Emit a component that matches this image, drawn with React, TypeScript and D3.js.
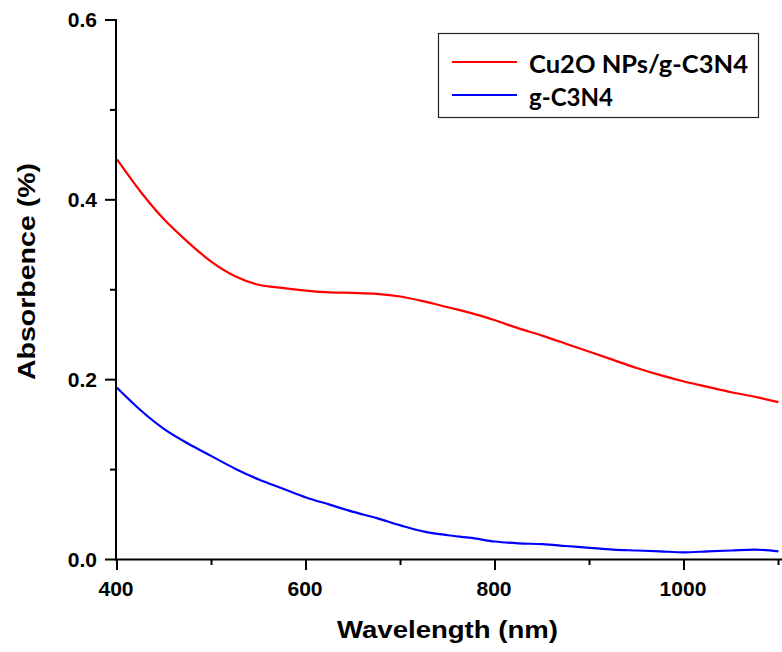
import React from "react";
import * as d3 from "d3";

const wavelengths = [400, 425, 450, 475, 500, 525, 550, 575, 600, 625, 650, 675, 700, 725, 750, 775, 800, 825, 850, 875, 900, 925, 950, 975, 1000, 1025, 1050, 1075, 1100];
const cu2oValues = [0.445, 0.409, 0.378, 0.353, 0.331, 0.315, 0.3055, 0.302, 0.299, 0.297, 0.2965, 0.2955, 0.2925, 0.287, 0.2805, 0.274, 0.266, 0.257, 0.249, 0.240, 0.231, 0.222, 0.213, 0.205, 0.198, 0.192, 0.186, 0.181, 0.175];
const gc3n4Values = [0.191, 0.166, 0.145, 0.129, 0.115, 0.101, 0.089, 0.079, 0.069, 0.061, 0.053, 0.046, 0.038, 0.031, 0.027, 0.024, 0.020, 0.018, 0.017, 0.015, 0.013, 0.011, 0.010, 0.009, 0.008, 0.009, 0.010, 0.011, 0.009];
const seriesNames = ["Cu2O NPs/g-C3N4", "g-C3N4"];
const seriesColors = ["#ff0000", "#0000ff"];
const xMajorTicks = [400, 600, 800, 1000];
const xMinorTicks = [500, 700, 900, 1100];
const yMajorTicks = [0.0, 0.2, 0.4, 0.6];
const yMinorTicks = [0.1, 0.3, 0.5];

const W = 782;
const H = 652;

export default function App() {
  const x = d3.scaleLinear().domain([400, 1100]).range([117, 778.5]);
  const y = d3.scaleLinear().domain([0, 0.6]).range([559.5, 20]);
  const line = d3
    .line<[number, number]>()
    .x((d) => x(d[0]))
    .y((d) => y(d[1]))
    .curve(d3.curveMonotoneX);
  const series = [cu2oValues, gc3n4Values].map((vals) =>
    wavelengths.map((w, i) => [w, vals[i]] as [number, number])
  );
  const tickFont = "Arial, 'Liberation Sans', sans-serif";
  return (
    <svg
      width={W}
      height={H}
      style={{ position: "absolute", left: 0, top: 0, background: "#fff" }}
    >
      <defs>
        <clipPath id="plot">
          <rect x={117} y={0} width={W - 117} height={560} />
        </clipPath>
      </defs>
      <g clipPath="url(#plot)">
        {series.map((s, i) => (
          <path
            key={i}
            d={line(s) || ""}
            fill="none"
            stroke={seriesColors[i]}
            strokeWidth={2.2}
          />
        ))}
      </g>
      {/* axes */}
      <line x1={116} x2={116} y1={19} y2={560.5} stroke="#000" strokeWidth={2} />
      <line x1={115} x2={W} y1={559.5} y2={559.5} stroke="#000" strokeWidth={2} />
      {yMajorTicks.map((t) => (
        <g key={"ym" + t}>
          <line x1={105} x2={116} y1={y(t)} y2={y(t)} stroke="#000" strokeWidth={2} />
          <text
            transform={`translate(97,${y(t) + 7}) scale(1.08,1)`}
            textAnchor="end"
            fontFamily={tickFont}
            fontWeight="bold"
            fontSize={19.5}
            fill="#000"
          >
            {t.toFixed(1)}
          </text>
        </g>
      ))}
      {yMinorTicks.map((t) => (
        <line key={"yn" + t} x1={110} x2={116} y1={y(t)} y2={y(t)} stroke="#000" strokeWidth={2} />
      ))}
      {xMajorTicks.map((t) => (
        <g key={"xm" + t}>
          <line x1={x(t)} x2={x(t)} y1={559.5} y2={570} stroke="#000" strokeWidth={2} />
          <text
            transform={`translate(${x(t) - 1},596) scale(1.08,1)`}
            textAnchor="middle"
            fontFamily={tickFont}
            fontWeight="bold"
            fontSize={19.5}
            fill="#000"
          >
            {t}
          </text>
        </g>
      ))}
      {xMinorTicks.map((t) => (
        <line key={"xn" + t} x1={x(t)} x2={x(t)} y1={559.5} y2={565} stroke="#000" strokeWidth={2} />
      ))}
      {/* axis titles */}
      <text
        x={447.5}
        y={638}
        textAnchor="middle"
        fontFamily={tickFont}
        fontWeight="bold"
        fontSize={24.5}
        textLength={221}
        lengthAdjust="spacingAndGlyphs"
        fill="#000"
      >
        Wavelength (nm)
      </text>
      <text
        transform="translate(35,271.5) rotate(-90)"
        textAnchor="middle"
        fontFamily={tickFont}
        fontWeight="bold"
        fontSize={24.5}
        textLength={217}
        lengthAdjust="spacingAndGlyphs"
        fill="#000"
      >
        Absorbence (%)
      </text>
      {/* legend */}
      <rect x={438.5} y={33.5} width={320} height={84} fill="#fff" stroke="#222" strokeWidth={1.2} />
      {seriesNames.map((name, i) => (
        <g key={name}>
          <line
            x1={452}
            x2={517}
            y1={62 + i * 33}
            y2={62 + i * 33}
            stroke={seriesColors[i]}
            strokeWidth={2.2}
          />
          <text
            x={529}
            y={73 + i * 33}
            fontFamily="Lato, 'Open Sans', sans-serif"
            fontWeight="bold"
            fontSize={25}
            textLength={i === 0 ? 219 : 84}
            lengthAdjust="spacingAndGlyphs"
            fill="#000"
          >
            {name}
          </text>
        </g>
      ))}
    </svg>
  );
}
